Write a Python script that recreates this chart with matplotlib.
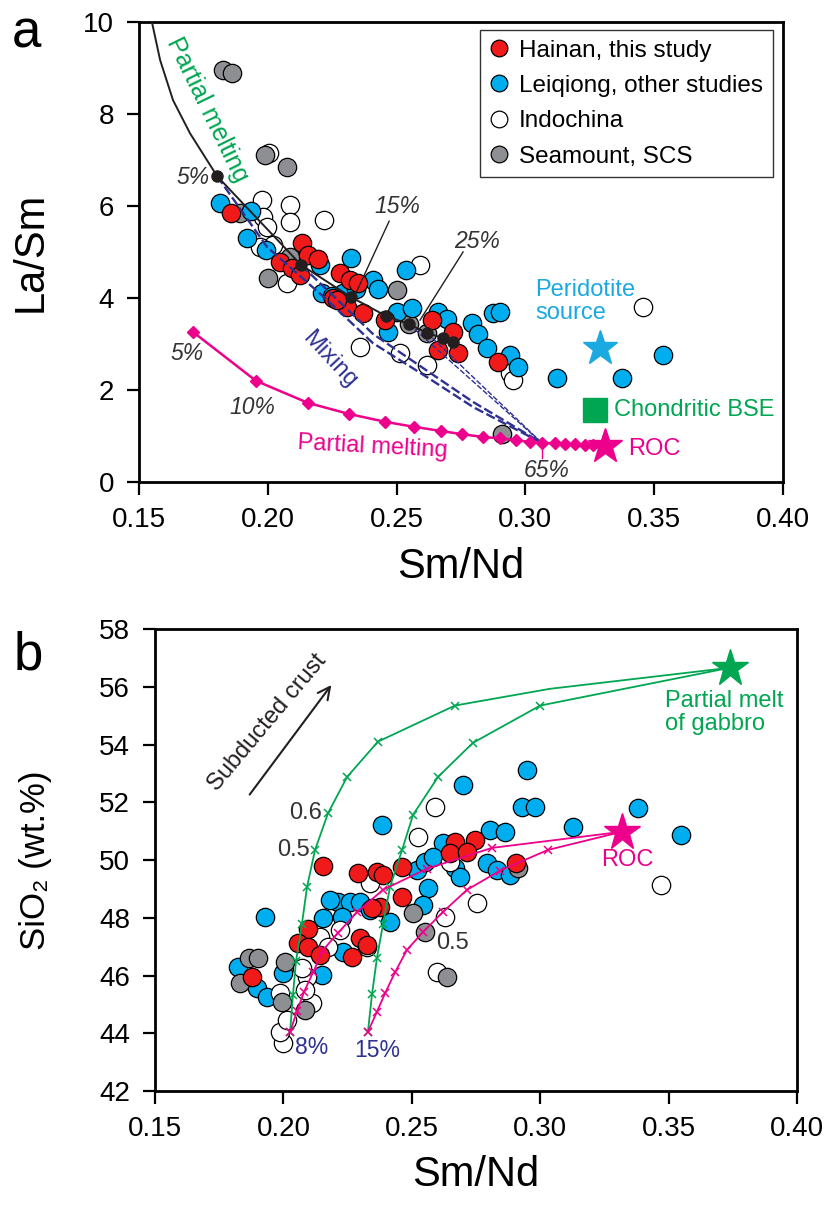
import matplotlib
matplotlib.use('Agg')
import matplotlib.pyplot as plt
from matplotlib.lines import Line2D

plt.rcParams['font.family'] = ['Liberation Sans', 'DejaVu Sans']

RED = '#f01a1a'
BLUE = '#00aeef'
GRAY = '#8e8f92'
GREEN = '#00a651'
PINK = '#ec008c'
NAVY = '#2e3192'
SKY = '#1ba9e1'
DARK = '#333333'

# ---------------- panel a: La/Sm vs Sm/Nd ----------------
a_hainan_x = [0.1858, 0.2133, 0.2156, 0.2047, 0.2094, 0.2125, 0.2253, 0.2280, 0.2319, 0.2307,
              0.2350, 0.2269, 0.2369, 0.2455, 0.2637, 0.2719, 0.2661, 0.2738, 0.2894, 0.2194]
a_hainan_y = [5.85, 5.20, 4.93, 4.78, 4.65, 4.50, 4.00, 4.54, 4.39, 3.80,
              4.33, 3.96, 3.67, 3.52, 3.52, 3.26, 2.87, 2.80, 2.61, 4.84]

a_leiqiong_x = [0.1814, 0.1935, 0.1919, 0.1993, 0.2203, 0.2323, 0.2210, 0.2248, 0.2292, 0.2342,
                0.2408, 0.2428, 0.2536, 0.2874, 0.2793, 0.2816, 0.2502, 0.2560, 0.2661, 0.2696,
                0.2467, 0.2851, 0.2940, 0.2971, 0.2900, 0.3123, 0.3375, 0.3534]
a_leiqiong_y = [6.07, 5.89, 5.30, 5.04, 4.72, 4.87, 4.11, 4.04, 4.11, 4.20,
                4.39, 4.20, 4.61, 3.67, 3.46, 3.22, 3.70, 3.78, 3.70, 3.55,
                3.26, 2.91, 2.76, 2.50, 3.70, 2.26, 2.26, 2.76]

a_indochina_x = [0.1978, 0.2086, 0.2218, 0.1981, 0.2086, 0.1997, 0.2020, 0.1970, 0.2075, 0.2358,
                 0.2591, 0.2513, 0.2618, 0.2940, 0.2952, 0.3457, 0.2005]
a_indochina_y = [6.13, 6.02, 5.70, 5.76, 5.65, 5.54, 5.15, 5.10, 4.33, 2.93,
                 4.72, 2.80, 2.54, 2.37, 2.22, 3.80, 7.15]

a_seamount_x = [0.1826, 0.1861, 0.1989, 0.2075, 0.1892, 0.2086, 0.2001, 0.2502, 0.2548, 0.2618, 0.2909]
a_seamount_y = [8.96, 8.90, 7.11, 6.85, 5.85, 4.89, 4.43, 4.17, 3.43, 3.24, 1.04]

# peridotite melting curve (dots from the 5% point on)
a_melt_x = [0.1550, 0.1582, 0.1632, 0.1698, 0.1803, 0.2129, 0.2323, 0.2459, 0.2548, 0.2618, 0.2680, 0.2719]
a_melt_y = [10.0, 9.17, 8.30, 7.58, 6.65, 4.72, 4.02, 3.61, 3.43, 3.24, 3.13, 3.04]

# recycled oceanic crust melting curve
a_roc_melt_x = [0.1710, 0.1954, 0.2156, 0.2315, 0.2455, 0.2568, 0.2672, 0.2754, 0.2835, 0.2900,
                0.2963, 0.3018, 0.3064, 0.3114, 0.3153, 0.3192, 0.3231, 0.3262]
a_roc_melt_y = [3.26, 2.20, 1.72, 1.48, 1.31, 1.20, 1.11, 1.04, 0.98, 0.95,
                0.91, 0.87, 0.85, 0.84, 0.83, 0.82, 0.81, 0.80]

a_roc = (0.3309, 0.78)
a_peridotite = (0.3290, 2.91)
a_bse = (0.3270, 1.57)

# mixing curves between peridotite melts and the 65% ROC melt
a_mix_curves = [
    ([0.1803, 0.1997, 0.2230, 0.2408, 0.2618, 0.2797, 0.3064], [6.65, 5.11, 3.96, 3.02, 2.28, 1.63, 0.85], 1.7),
    ([0.2129, 0.2408, 0.2618, 0.2797, 0.3064], [4.72, 3.22, 2.42, 1.74, 0.85], 1.7),
    ([0.2548, 0.3064], [3.43, 0.85], 1.0),
    ([0.2618, 0.3064], [3.24, 0.85], 1.0),
]

# ---------------- panel b: SiO2 vs Sm/Nd ----------------
b_hainan_x = [0.2154, 0.2290, 0.2364, 0.2388, 0.2462, 0.2462, 0.2376, 0.2345, 0.2096, 0.2057,
              0.2096, 0.2143, 0.2298, 0.2326, 0.2267, 0.1878, 0.2668, 0.2746, 0.2649, 0.2715, 0.2906]
b_hainan_y = [49.80, 49.56, 49.59, 49.49, 49.76, 48.72, 48.38, 48.35, 47.62, 47.13,
              46.99, 46.71, 47.30, 47.06, 46.65, 45.95, 50.63, 50.70, 50.25, 50.28, 49.90]

b_leiqiong_x = [0.2384, 0.1928, 0.2213, 0.2259, 0.2298, 0.2154, 0.1823, 0.1897, 0.1936, 0.1998,
                0.2150, 0.2232, 0.2337, 0.2415, 0.2520, 0.2551, 0.2699, 0.2949, 0.2929, 0.2980,
                0.2805, 0.2863, 0.3128, 0.2621, 0.2583, 0.2793, 0.2832, 0.2882, 0.2668, 0.2688,
                0.2563, 0.2544, 0.3381, 0.3548, 0.2181, 0.2228]
b_leiqiong_y = [51.22, 48.03, 48.55, 48.55, 48.55, 48.00, 46.30, 45.57, 45.26, 46.09,
                46.02, 46.82, 48.27, 47.86, 49.66, 49.94, 52.60, 53.13, 51.84, 51.84,
                51.05, 50.98, 51.15, 50.60, 50.11, 49.90, 49.66, 49.49, 49.73, 49.42,
                49.04, 48.45, 51.80, 50.87, 48.62, 48.03]

b_indochina_x = [0.1998, 0.1987, 0.2014, 0.2092, 0.2111, 0.2084, 0.1987, 0.2072, 0.2143, 0.2174,
                 0.2337, 0.2326, 0.2220, 0.2524, 0.2590, 0.2649, 0.2754, 0.2629, 0.2598, 0.3470]
b_indochina_y = [43.66, 44.05, 44.46, 45.95, 45.05, 45.50, 45.40, 46.26, 47.34, 46.99,
                 49.21, 46.99, 47.58, 50.80, 51.84, 49.94, 48.52, 48.03, 46.12, 49.14]

b_seamount_x = [0.1866, 0.1901, 0.1831, 0.2006, 0.1994, 0.2084, 0.2505, 0.2551, 0.2914, 0.2637]
b_seamount_y = [46.61, 46.61, 45.74, 46.47, 45.08, 44.81, 48.17, 47.51, 49.73, 45.95]

b_gabbro = (0.3739, 56.66)
b_roc = (0.3319, 50.98)

# mixing curves toward gabbro melt (green) and ROC (pink); last point is the end-member
b_green_8_x = [0.2026, 0.2037, 0.2049, 0.2072, 0.2092, 0.2123, 0.2174, 0.2248, 0.2368, 0.2668, 0.3038, 0.3739]
b_green_8_y = [44.05, 45.33, 46.50, 47.79, 49.07, 50.35, 51.63, 52.88, 54.10, 55.35, 55.93, 56.66]
b_green_15_x = [0.2329, 0.2345, 0.2364, 0.2388, 0.2415, 0.2462, 0.2505, 0.2602, 0.2738, 0.3000, 0.3739]
b_green_15_y = [44.05, 45.36, 46.60, 47.79, 49.07, 50.35, 51.57, 52.88, 54.06, 55.35, 56.66]
b_pink_8_x = [0.2026, 0.2053, 0.2080, 0.2116, 0.2154, 0.2213, 0.2287, 0.2388, 0.2559, 0.2812, 0.3319]
b_pink_8_y = [44.05, 44.77, 45.43, 46.12, 46.88, 47.48, 48.20, 48.97, 49.70, 50.42, 50.98]
b_pink_15_x = [0.2329, 0.2364, 0.2396, 0.2435, 0.2481, 0.2544, 0.2621, 0.2715, 0.2843, 0.3030, 0.3319]
b_pink_15_y = [44.05, 44.74, 45.39, 46.12, 46.89, 47.51, 48.20, 48.97, 49.63, 50.35, 50.98]

x_ticks = [0.15, 0.20, 0.25, 0.30, 0.35, 0.40]


def style_axes(ax):
    for s in ax.spines.values():
        s.set_linewidth(2.0)
    ax.tick_params(direction='out', length=9, width=1.6, labelsize=20, pad=9)
    ax.set_xticks(x_ticks)
    ax.set_xticklabels([f'{t:.2f}' for t in x_ticks])


def groups(ax, data):
    for xs, ys, fc in data:
        ax.scatter(xs, ys, s=175, facecolor=fc, edgecolor='black', linewidth=0.9, zorder=3)


fig = plt.figure(figsize=(8.34, 12.09), dpi=100)

# ---- panel a ----
ax = fig.add_axes([0.1667, 0.6013, 0.7721, 0.3805])
ax.set_xlim(0.15, 0.40)
ax.set_ylim(0, 10)
ax.set_yticks([0, 2, 4, 6, 8, 10])
style_axes(ax)
ax.set_xlabel('Sm/Nd', fontsize=30, labelpad=10)
ax.set_ylabel('La/Sm', fontsize=30, labelpad=23)

groups(ax, [(a_indochina_x, a_indochina_y, 'white'),
            (a_seamount_x, a_seamount_y, GRAY),
            (a_leiqiong_x, a_leiqiong_y, BLUE),
            (a_hainan_x, a_hainan_y, RED)])

for xs, ys, lw in a_mix_curves:
    ax.plot(xs, ys, color=NAVY, lw=lw, ls=(0, (4, 1.5)), zorder=4)

ax.plot(a_melt_x, a_melt_y, color='#231f20', lw=1.4, zorder=5)
ax.plot(a_melt_x[4:], a_melt_y[4:], 'o', color='#231f20', ms=8, zorder=6)

ax.plot(a_roc_melt_x + [a_roc[0]], a_roc_melt_y + [a_roc[1]], color=PINK, lw=1.8, zorder=5)
ax.plot(a_roc_melt_x, a_roc_melt_y, 'D', color=PINK, ms=6.5, zorder=6)
ax.plot(*a_roc, '*', color=PINK, ms=26, zorder=7)
ax.plot(*a_peridotite, '*', color=SKY, ms=26, zorder=7)
ax.plot(*a_bse, 's', color=GREEN, ms=17, zorder=7)

ax.text(0.3037, 3.93, 'Peridotite\nsource', color=SKY, fontsize=17, ha='left', va='center', linespacing=1.05)
ax.text(0.3345, 1.565, 'Chondritic BSE', color=GREEN, fontsize=17, ha='left', va='center')
ax.text(0.3398, 0.72, 'ROC', color=PINK, fontsize=17, ha='left', va='center')
ax.text(0.1764, 8.09, 'Partial melting', color=GREEN, fontsize=18, rotation=-64,
        ha='center', va='center', rotation_mode='anchor')
ax.text(0.2408, 0.76, 'Partial melting', color=PINK, fontsize=17, rotation=-3,
        ha='center', va='center')
ax.text(0.2241, 2.65, 'Mixing', color=NAVY, fontsize=17, rotation=-47,
        ha='center', va='center', rotation_mode='anchor')

pct = dict(fontsize=16.5, style='italic', color=DARK, va='center')
ax.text(0.1775, 6.63, '5%', ha='right', **pct)
ax.text(0.2502, 5.98, '15%', ha='center', **pct)
ax.text(0.2812, 5.22, '25%', ha='center', **pct)
ax.text(0.1686, 2.80, '5%', ha='center', **pct)
ax.text(0.1939, 1.63, '10%', ha='center', **pct)
ax.text(0.3084, 0.26, '65%', ha='center', **pct)
ax.plot([0.2471, 0.2339], [5.67, 4.07], color='#231f20', lw=1.0, zorder=6)
ax.plot([0.2758, 0.2591], [5.00, 3.52], color='#231f20', lw=1.0, zorder=6)
ax.plot([0.3064, 0.3064], [0.80, 0.52], color=PINK, lw=1.0, zorder=6)

handles = [Line2D([], [], marker='o', ls='none', mfc=c, mec='black', mew=0.9, ms=12)
           for c in (RED, BLUE, 'white', GRAY)]
labels = ['Hainan, this study', 'Leiqiong, other studies', 'Indochina', 'Seamount, SCS']
leg = ax.legend(handles, labels, loc='upper right', bbox_to_anchor=(0.984, 0.983),
                borderaxespad=0, fontsize=17.5, frameon=True, fancybox=False,
                edgecolor='black', handletextpad=0.4, labelspacing=0.55,
                borderpad=0.4, handlelength=0.8)
leg.get_frame().set_linewidth(1.0)
leg.set_zorder(10)

# ---- panel b ----
bx = fig.add_axes([0.1859, 0.0976, 0.7698, 0.3821])
bx.set_xlim(0.15, 0.40)
bx.set_ylim(42, 58)
bx.set_yticks(range(42, 59, 2))
style_axes(bx)
bx.set_xlabel('Sm/Nd', fontsize=30, labelpad=9)
bx.set_ylabel('SiO₂ (wt.%)', fontsize=25, labelpad=34)

groups(bx, [(b_leiqiong_x, b_leiqiong_y, BLUE),
            (b_indochina_x, b_indochina_y, 'white'),
            (b_seamount_x, b_seamount_y, GRAY),
            (b_hainan_x, b_hainan_y, RED)])

curve_kw = dict(lw=1.3, marker='x', ms=6, mew=1.1, zorder=5)
bx.plot(b_green_8_x, b_green_8_y, color=GREEN, markevery=list(range(10)), **curve_kw)
bx.plot(b_green_15_x, b_green_15_y, color=GREEN, markevery=list(range(10)), **curve_kw)
bx.plot(b_pink_8_x, b_pink_8_y, color=PINK, markevery=list(range(10)), **curve_kw)
bx.plot(b_pink_15_x, b_pink_15_y, color=PINK, markevery=list(range(10)), **curve_kw)
bx.plot(*b_gabbro, '*', color=GREEN, ms=28, zorder=7)
bx.plot(*b_roc, '*', color=PINK, ms=28, zorder=7)

bx.text(0.3486, 55.1, 'Partial melt\nof gabbro', color=GREEN, fontsize=17,
        ha='left', va='center', linespacing=1.05)
bx.text(0.3338, 50.0, 'ROC', color=PINK, fontsize=17, ha='center', va='center')
bx.text(0.2150, 51.64, '0.6', color=DARK, fontsize=17, ha='right', va='center')
bx.text(0.2104, 50.35, '0.5', color=DARK, fontsize=17, ha='right', va='center')
bx.text(0.2657, 47.13, '0.5', color=DARK, fontsize=17, ha='center', va='center')
bx.text(0.2110, 43.49, '8%', color=NAVY, fontsize=16.5, ha='center', va='center')
bx.text(0.2365, 43.42, '15%', color=NAVY, fontsize=16.5, ha='center', va='center')
bx.text(0.1936, 54.76, 'Subducted crust', color='#231f20', fontsize=17, rotation=50,
        ha='center', va='center', rotation_mode='anchor')
bx.annotate('', xy=(0.2193, 56.14), xytext=(0.1862, 52.19),
            arrowprops=dict(arrowstyle='->', color='#231f20', lw=1.5, mutation_scale=22))

fig.text(0.032, 0.972, 'a', fontsize=38, ha='center', va='center')
fig.text(0.034, 0.458, 'b', fontsize=38, ha='center', va='center')

fig.savefig('out.png', dpi=100)
